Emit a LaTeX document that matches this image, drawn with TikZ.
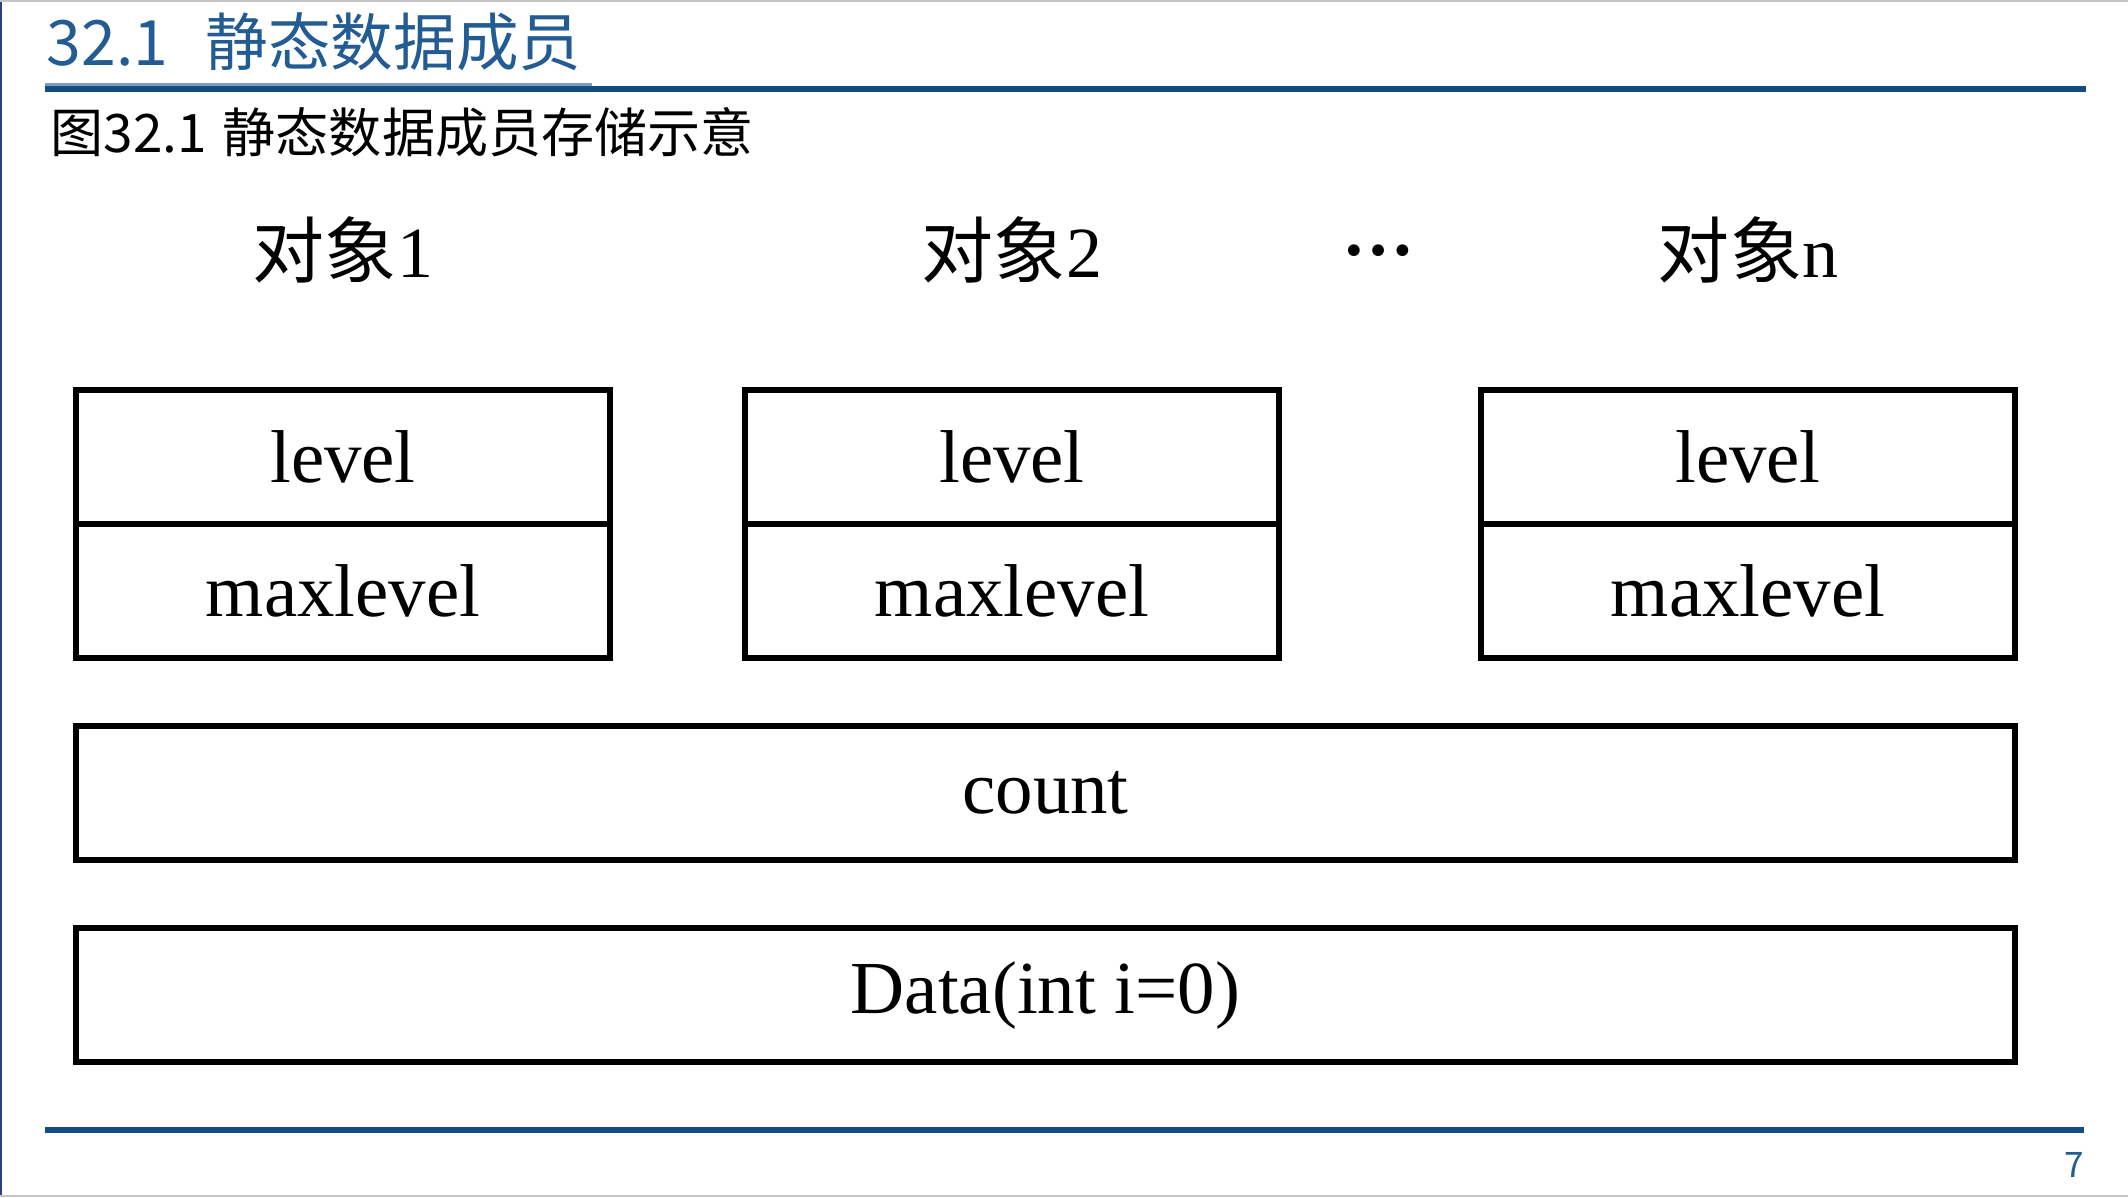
\documentclass[tikz,border=0pt]{standalone}
\usepackage{fontspec}
\setmainfont{Liberation Serif}
\newfontfamily\cjk{Noto Sans CJK SC}
\usepackage{xcolor}
\usepackage{tikz}
\usetikzlibrary{positioning}
\definecolor{titleblue}{HTML}{235C92}
\definecolor{rulenavy}{HTML}{124D82}
\definecolor{framenavy}{HTML}{2C3E8C}
\definecolor{framegrey}{HTML}{C4C4C4}
\tikzset{
  cell/.style={draw,line width=.6mm,minimum width=53.4mm,minimum height=13.4mm,
    inner sep=0pt,outer sep=0pt,font=\fontsize{21.3}{24}\selectfont},
  widecell/.style={cell,minimum width=193.9mm},
  objlabel/.style={anchor=base,font=\fontsize{20.5}{24}\selectfont},
  plaintext/.style={inner sep=0pt}
}
\begin{document}
\begin{tikzpicture}[x=1mm,y=1mm]
    \useasboundingbox (0,0) rectangle (212.8,119.7);
    % slide frame
    \draw[framenavy,line width=.25mm](0.12,0)--(0.12,119.7);
    \draw[framegrey,line width=.2mm](0,119.6)--(212.8,119.6); \draw[framegrey,line width=.2mm](0,0.1)--(212.8,0.1);
    % heading and rules
    \node[plaintext,anchor=base west,text=titleblue,font=\cjk\fontsize{17.8}{20}\selectfont] (title) at (4.6,113.2){32.1\hspace{.6em}静态数据成员};
    \fill[rulenavy](4.5,110.5) rectangle(208.6,111.15); \fill[rulenavy!55](4.5,111.15) rectangle(59.2,111.4);
    \node[plaintext,anchor=base west,font=\cjk\fontsize{15.1}{18}\selectfont] (caption) at (5.0,104.5){图32.1\hspace{.3em}静态数据成员存储示意};
    \fill[rulenavy](4.5,6.4) rectangle(208.4,7.0);
    \node[plaintext,anchor=base east,text=titleblue,font=\cjk\fontsize{10}{12}\selectfont] (page) at (208.5,2.0){7};
    % objects
    \node[objlabel] (obj1) at (34.3,92.0){{\cjk 对象}1};
    \node[objlabel] (obj2) at (101.2,92.0){{\cjk 对象}2};
    \node[objlabel] (objn) at (174.8,92.0){{\cjk 对象}n};
    \node[objlabel,font=\bfseries\fontsize{20.5}{24}\selectfont] (dots) at (137.9,94.2){…};
    \node[cell] (lv1) at (34.3,74.0){level}; \node[cell,below=0pt of lv1] (mx1){maxlevel};
    \node[cell] (lv2) at (101.2,74.0){level}; \node[cell,below=0pt of lv2] (mx2){maxlevel};
    \node[cell] (lvn) at (174.8,74.0){level}; \node[cell,below=0pt of lvn] (mxn){maxlevel};
    % shared members
    \node[widecell,anchor=north west] (count) at ([yshift=-6.8mm]mx1.south west){count};
    \node[widecell,below=6.8mm of count] (data){Data(int i=0)};
  \end{tikzpicture}
\end{document}
